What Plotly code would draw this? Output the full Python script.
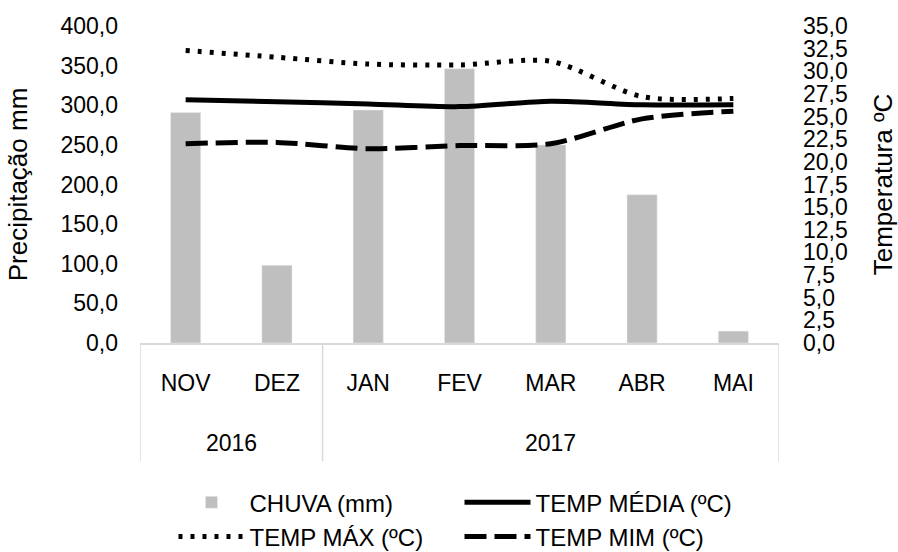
import plotly.graph_objects as go

meses = ['NOV', 'DEZ', 'JAN', 'FEV', 'MAR', 'ABR', 'MAI']
anos = ['2016', '2016', '2017', '2017', '2017', '2017', '2017']
chuva = [291, 98, 294, 346, 250, 187, 15]
temp_media = [26.85, 26.65, 26.4, 26.1, 26.7, 26.3, 26.3]
temp_max = [32.3, 31.55, 30.8, 30.7, 31.1, 27.2, 27.0]
temp_min = [22.0, 22.15, 21.45, 21.8, 22.0, 24.75, 25.6]

left_ticks = list(range(0, 401, 50))
right_ticks = [i * 2.5 for i in range(15)]

FONT = 'Liberation Sans, Arial, sans-serif'
FS = 23

fig = go.Figure()
fig.add_trace(go.Bar(x=meses, y=chuva, name='CHUVA (mm)', marker_color='#bfbfbf',
                     width=0.33, yaxis='y'))
fig.add_trace(go.Scatter(x=meses, y=temp_media, name='TEMP MÉDIA (ºC)', mode='lines',
                         line=dict(color='black', width=5, shape='spline', smoothing=0.8), yaxis='y2'))
fig.add_trace(go.Scatter(x=meses, y=temp_max, name='TEMP MÁX (ºC)', mode='lines',
                         line=dict(color='black', width=5, shape='spline', smoothing=0.8, dash='4px,8px'), yaxis='y2'))
fig.add_trace(go.Scatter(x=meses, y=temp_min, name='TEMP MIM (ºC)', mode='lines',
                         line=dict(color='black', width=5, shape='spline', smoothing=0.8, dash='22px,8px'), yaxis='y2'))

# year group separators and labels
groups = []
for i, a in enumerate(anos):
    if not groups or groups[-1][0] != a:
        groups.append([a, i, i])
    else:
        groups[-1][2] = i

sep_bottom = -0.373
shapes = []
annotations = []
edges = [g[1] - 0.5 for g in groups] + [groups[-1][2] + 0.5]
for e in edges:
    shapes.append(dict(type='line', xref='x', yref='paper', x0=e, x1=e, y0=0, y1=sep_bottom,
                       line=dict(color='#d9d9d9', width=1.5)))
for a, i0, i1 in groups:
    annotations.append(dict(x=(i0 + i1) / 2, y=-0.315, xref='x', yref='paper', text=a,
                            showarrow=False, font=dict(family=FONT, size=FS, color='black'),
                            xanchor='center', yanchor='middle'))

fig.update_layout(
    width=898, height=552,
    margin=dict(l=140, r=119, t=26, b=208.5, autoexpand=False),
    paper_bgcolor='white', plot_bgcolor='white',
    separators=',.',
    font=dict(family=FONT, size=FS, color='black'),
    bargap=0.67,
    showlegend=True,
    legend=dict(orientation='h', x=0.5, xanchor='center', y=-0.433, yanchor='top',
                entrywidth=205, itemwidth=66, font=dict(family=FONT, size=24, color='black'),
                tracegroupgap=0, traceorder='normal'),
    xaxis=dict(type='category', categoryorder='array', categoryarray=meses, automargin=False,
               range=[-0.5, len(meses) - 0.5], showline=True, linecolor='#d9d9d9', linewidth=1.5,
               ticks='', showgrid=False, ticklabelstandoff=19,
               tickfont=dict(family=FONT, size=FS, color='black')),
    yaxis=dict(range=[0, 400], tickvals=left_ticks, tickformat='.1f', showgrid=False, automargin=False,
               zeroline=False, showline=False, ticks='', ticklabelstandoff=21,
               title=dict(text='Precipitação mm', font=dict(family=FONT, size=26, color='black'),
                          standoff=25),
               tickfont=dict(family=FONT, size=FS, color='black')),
    yaxis2=dict(range=[0, 35], tickvals=right_ticks, tickformat='.1f', overlaying='y', automargin=False,
                side='right', showgrid=False, zeroline=False, showline=False, ticks='',
                ticklabelstandoff=23,
                title=dict(text='Temperatura ºC', font=dict(family=FONT, size=26, color='black'),
                           standoff=31),
                tickfont=dict(family=FONT, size=FS, color='black')),
    shapes=shapes,
    annotations=annotations,
)

fig.write_html('out.html', config={'displayModeBar': False},
               post_script="document.body.style.margin='0';document.body.style.overflow='hidden';")
